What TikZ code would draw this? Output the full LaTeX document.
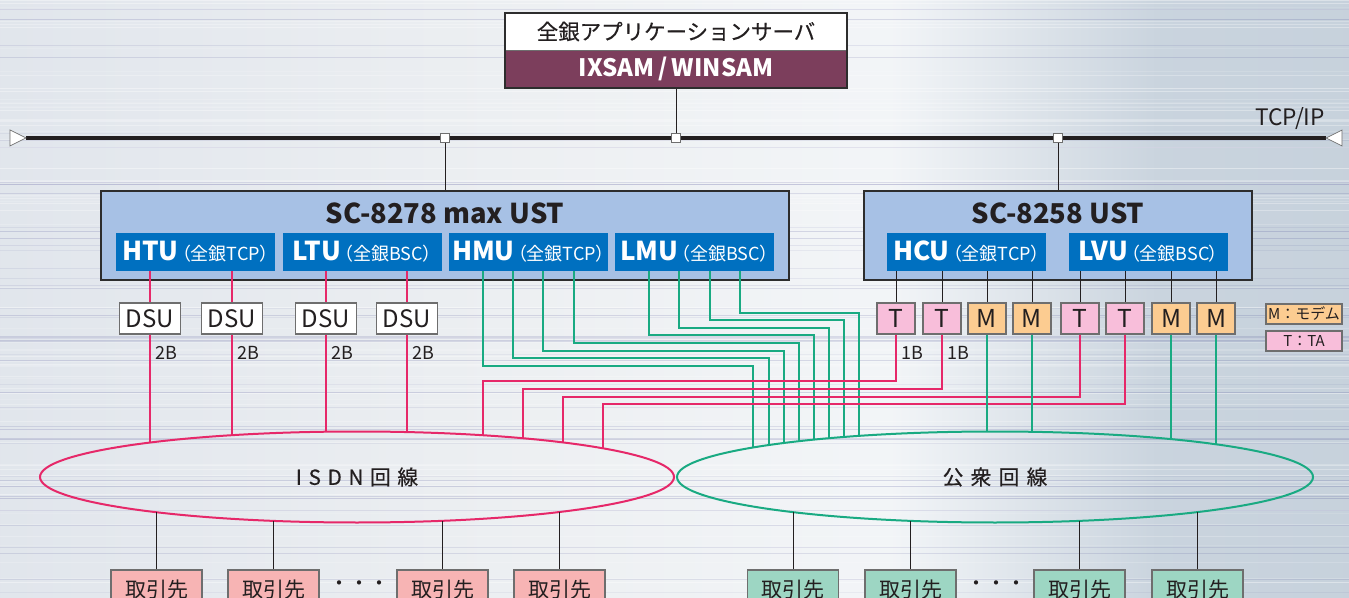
\documentclass[tikz,border=0pt]{standalone}
\usepackage{fontspec}
\setmainfont{Noto Sans CJK JP}
\usetikzlibrary{calc,fit,shapes.geometric}
\definecolor{txt}{RGB}{35,31,32}
\definecolor{srvpurple}{RGB}{124,62,92}
\definecolor{ustfill}{RGB}{167,193,229}
\definecolor{unitblue}{RGB}{0,112,192}
\definecolor{edge}{RGB}{45,45,45}
\definecolor{tpink}{RGB}{248,190,218}
\definecolor{morange}{RGB}{252,204,145}
\definecolor{lpink}{RGB}{230,40,105}
\definecolor{lgreen}{RGB}{25,170,130}
\definecolor{ppink}{RGB}{247,180,180}
\definecolor{pgreen}{RGB}{157,214,195}
\definecolor{boxgray}{RGB}{110,110,110}
\pgfdeclarehorizontalshading{metal}{100bp}{rgb(0bp)=(0.78,0.82,0.86); rgb(20bp)=(0.87,0.89,0.92); rgb(45bp)=(0.93,0.94,0.95); rgb(58bp)=(0.95,0.96,0.97); rgb(68bp)=(0.79,0.83,0.87); rgb(100bp)=(0.74,0.79,0.84)}
\newcommand\fsz[1]{\fontsize{#1}{#1}\selectfont}
\newcommand\unitlbl[2]{{\fsz{19.5pt}\bfseries #1}{\fsz{13.5pt}\addfontfeature{RawFeature=+palt}\,（全銀#2）}}
\tikzset{
  conn/.style={draw=txt, line width=0.75pt},
  pinkline/.style={draw=lpink, line width=0.9pt},
  greenline/.style={draw=lgreen, line width=0.9pt},
  srvpart/.style={minimum width={342*0.75pt}, minimum height={#1*0.75pt}, inner sep=0},
  tap/.style={draw=boxgray, fill=white, line width=0.6pt, minimum size={9*0.75pt}, inner sep=0},
  ust/.style={draw=edge, line width=1.9pt, fill=ustfill, minimum width={#1*0.75pt}, minimum height={89*0.75pt}, inner sep=0},
  ttl/.style={text=txt, font=\fsz{20.5pt}\bfseries, inner sep=0},
  unit/.style={fill=unitblue, text=white, minimum width={#1*0.75pt}, minimum height={38*0.75pt}, inner sep=0},
  dsu/.style={draw=boxgray, fill=white, line width=0.9pt, minimum width={61*0.75pt}, minimum height={31*0.75pt}, inner sep=0, text=txt, font=\fsz{18pt}},
  tm/.style={draw=boxgray, fill=#1, line width=0.9pt, minimum width={38*0.75pt}, minimum height={31*0.75pt}, inner sep=0, text=txt, font=\fsz{18.5pt}},
  lbl/.style={text=txt, font=\fsz{13.5pt}, inner sep=0},
  legend/.style={draw=boxgray, fill=#1, line width=0.9pt, minimum width={76*0.75pt}, minimum height={20*0.75pt}, inner sep=0, text=txt, font=\fsz{11.25pt}},
  net/.style={draw=#1, line width=1.5pt, ellipse, minimum height={91*0.75pt}, inner sep=0, text=txt, font=\fsz{15.5pt}\addfontfeature{FakeBold=0.5}},
  partner/.style={draw=boxgray, fill=#1, line width=0.9pt, minimum width={91*0.75pt}, minimum height={40*0.75pt}, inner sep=0, text=txt, font=\fsz{15.75pt}},
}
\begin{document}
\begin{tikzpicture}[x=0.75pt, y=-0.75pt,
  declare function={
    itop(\x)=477-45.5*sqrt(max(0,1-((\x-357)/317)^2));
    ibot(\x)=477+45.5*sqrt(max(0,1-((\x-357)/317)^2));
    ptop(\x)=477-45.5*sqrt(max(0,1-((\x-995)/318)^2));
    pbot(\x)=477+45.5*sqrt(max(0,1-((\x-995)/318)^2));
  }]
\useasboundingbox (0,0) rectangle (1349,598);
\clip (0,0) rectangle (1349,598);
\shade[shading=metal] (0,0) rectangle (1349,598);
\pgfmathsetseed{11}
\foreach \i in {1,...,80} {
  \pgfmathsetmacro\yy{rnd*598}
  \pgfmathsetmacro\op{0.10+0.30*rnd}
  \draw[white, opacity=\op, line width=0.6pt] (0,\yy) -- (1349,\yy);
}
\foreach \i in {1,...,50} {
  \pgfmathsetmacro\yy{rnd*598}
  \pgfmathsetmacro\op{0.04+0.10*rnd}
  \draw[black!60!blue, opacity=\op, line width=0.5pt] (0,\yy) -- (1349,\yy);
}

% server
\node[srvpart=37, fill=white, text=txt, font=\fsz{16.1pt}\addfontfeature{FakeBold=0.3}] (srvT) at (676,31.5) {全銀アプリケーションサーバ};
\node[srvpart=38, fill=srvpurple, text=white, font=\fsz{18pt}\bfseries] (srvB) at (676,69) {IXSAM\,/\,WINSAM};
\draw[boxgray, line width=0.6pt] (srvT.south west) -- (srvT.south east);
\node[draw=edge, line width=1.5pt, fit=(srvT)(srvB), inner sep=0] (srv) {};

% bus
\coordinate (busL) at (26,138);
\coordinate (busR) at (1326,138);
\draw[txt, line width=3.4pt] (busL) -- (busR);
\draw[boxgray, fill=white, line width=0.5pt] (10,130) -- (busL) -- (10,146) -- cycle;
\draw[boxgray, fill=white, line width=0.5pt] (1342,130) -- (busR) -- (1342,146) -- cycle;
\node[tap] (tap1) at (445,138) {};
\node[tap] (tap2) at (676,138) {};
\node[tap] (tap3) at (1058,138) {};
\node[text=txt, font=\fsz{17pt}, inner sep=0] (tcpip) at (1290,119) {TCP/IP};
\draw[conn] (srv.south) -- (tap2.north);

% UST boxes
\node[ust=688] (ust1) at (445,235.5) {};
\node[ttl] (ust1t) at (445,213) {SC-8278 max UST};
\node[ust=388] (ust2) at (1058,235.5) {};
\node[ttl] (ust2t) at (1058,213) {SC-8258 UST};
\draw[conn] (tap1.south) -- (ust1.north);
\draw[conn] (tap3.south) -- (ust2.north);

\node[unit=159] (htu) at (195.5,252) {\unitlbl{HTU}{TCP}};
\node[unit=159] (ltu) at (362.5,252) {\unitlbl{LTU}{BSC}};
\node[unit=159] (hmu) at (528.5,252) {\unitlbl{HMU}{TCP}};
\node[unit=159] (lmu) at (694.5,252) {\unitlbl{LMU}{BSC}};
\node[unit=159] (hcu) at (966.5,252) {\unitlbl{HCU}{TCP}};
\node[unit=159] (lvu) at (1148.5,252) {\unitlbl{LVU}{BSC}};

% green lines from HMU / LMU
\foreach \sx/\ly/\ex [count=\i] in {483/366/753, 513/358/769, 543/351/784, 574/343/799} {
  \coordinate (gh\i) at (\ex,{ptop(\ex)});
  \draw[greenline] (hmu.south -| \sx,0) |- (gh\i |- 0,\ly) -- (gh\i);
}
\foreach \sx/\ly/\ex [count=\i] in {649/335/814, 679/328/829, 710/320/844, 740/313/859} {
  \coordinate (gl\i) at (\ex,{ptop(\ex)});
  \draw[greenline] (lmu.south -| \sx,0) |- (gl\i |- 0,\ly) -- (gl\i);
}

% DSU
\node[dsu] (dsu1) at (150,318.5) {DSU};
\node[dsu] (dsu2) at (232,318.5) {DSU};
\node[dsu] (dsu3) at (326,318.5) {DSU};
\node[dsu] (dsu4) at (407,318.5) {DSU};
\foreach \d/\u in {dsu1/htu, dsu2/htu, dsu3/ltu, dsu4/ltu} {
  \draw[pinkline] (\d.north |- \u.south) -- (\d.north);
}
\foreach \d/\x in {dsu1/150, dsu2/232, dsu3/326, dsu4/407} {
  \coordinate (i-\d) at (\x,{itop(\x)});
  \draw[pinkline] (\d.south) -- (i-\d);
  \node[lbl] (b-\d) at (\x+16,353) {2B};
}

% T / M boxes
\node[tm=tpink] (t1) at (896,318.5) {T};
\node[tm=tpink] (t2) at (942,318.5) {T};
\node[tm=morange] (m1) at (987,318.5) {M};
\node[tm=morange] (m2) at (1032,318.5) {M};
\node[tm=tpink] (t3) at (1080,318.5) {T};
\node[tm=tpink] (t4) at (1125,318.5) {T};
\node[tm=morange] (m3) at (1171,318.5) {M};
\node[tm=morange] (m4) at (1216,318.5) {M};
\foreach \b/\u in {t1/hcu, t2/hcu, m1/hcu, m2/hcu, t3/lvu, t4/lvu, m3/lvu, m4/lvu} {
  \draw[conn] (\b.north |- \u.south) -- (\b.north);
}
\node[lbl] (b-t1) at (912,353) {1B};
\node[lbl] (b-t2) at (958,353) {1B};
\foreach \t/\ly/\ex in {t1/381/483, t2/389/523, t3/397/563, t4/404/603} {
  \coordinate (ip-\t) at (\ex,{itop(\ex)});
  \draw[pinkline] (\t.south) |- (ip-\t |- 0,\ly) -- (ip-\t);
}
\foreach \m/\x in {m1/987, m2/1032, m3/1171, m4/1216} {
  \coordinate (pm-\m) at (\x,{ptop(\x)});
  \draw[greenline] (\m.south) -- (pm-\m);
}

% legend
\node[legend=morange] (legM) at (1304,314) {M：モデム};
\node[legend=tpink] (legT) at (1304,341) {T：TA};

% networks
\node[net=lpink, minimum width={634*0.75pt}] (isdn) at (357,477) {I\hspace{5pt}S\hspace{5pt}D\hspace{5pt}N\hspace{5pt}回\hspace{5pt}線};
\node[net=lgreen, minimum width={636*0.75pt}] (pub) at (995,477) {公\hspace{5.5pt}衆\hspace{5.5pt}回\hspace{5.5pt}線};

% partners
\foreach \x [count=\i] in {156.5, 273.5, 442.5, 559.5} {
  \node[partner=ppink] (pi\i) at (\x,590) {取引先};
  \coordinate (ib\i) at (\x,{ibot(\x)});
  \draw[conn] (ib\i) -- (pi\i.north);
}
\foreach \x [count=\i] in {793, 910.5, 1079.5, 1197.5} {
  \node[partner=pgreen] (pp\i) at (\x,590) {取引先};
  \coordinate (pb\i) at (\x,{pbot(\x)});
  \draw[conn] (pb\i) -- (pp\i.north);
}
\node[text=txt, font=\fsz{15pt}, inner sep=0] (dotsI) at (359,586) {・・・};
\node[text=txt, font=\fsz{15pt}, inner sep=0] (dotsP) at (996,586) {・・・};
\end{tikzpicture}
\end{document}
